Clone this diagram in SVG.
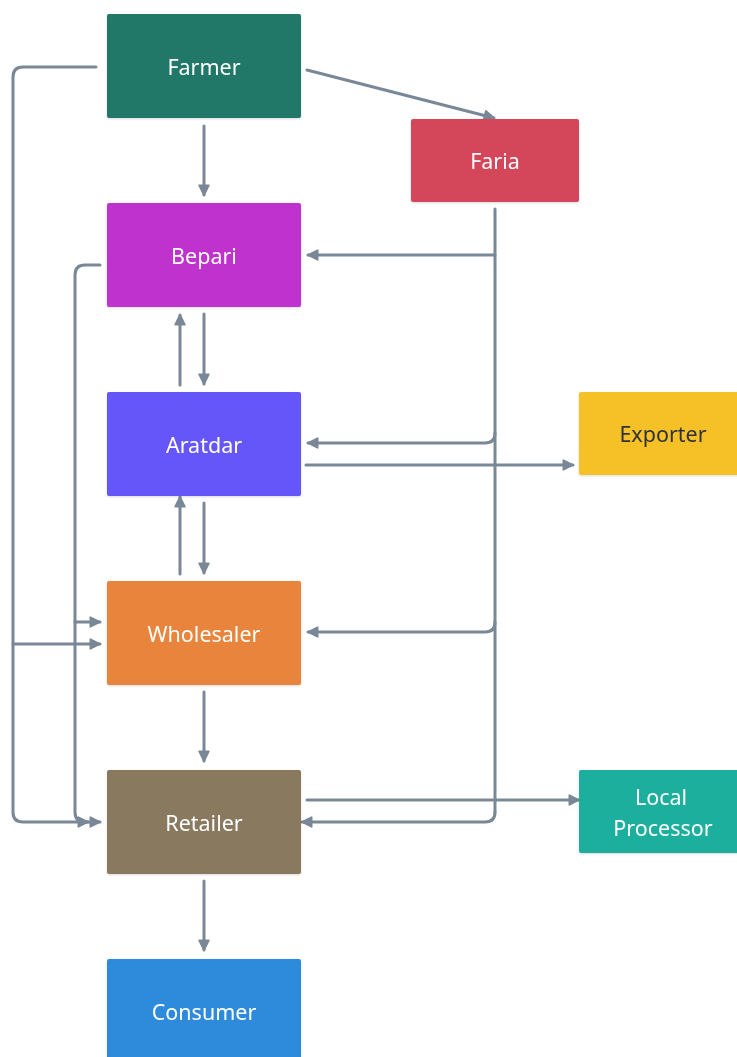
<svg xmlns="http://www.w3.org/2000/svg" width="737" height="1057" viewBox="0 0 737 1057">
  <style>
    .box { stroke: none; }
    .lbl { font-family: "Noto Sans", "DejaVu Sans", sans-serif; font-size: 21.5px; fill: #ffffff; text-anchor: middle; dominant-baseline: central; }
    .dark { fill: #2f3337; }
    .wire { fill: none; stroke: #7a8797; stroke-width: 3; stroke-linecap: round; stroke-linejoin: round; }
  </style>
  <defs>
    <marker id="arrow" viewBox="0 0 10 10" refX="9" refY="5" markerWidth="4" markerHeight="4" markerUnits="strokeWidth" orient="auto">
      <path d="M1,1 L9,5 L1,9 Z" fill="#7a8797" stroke="#7a8797" stroke-width="1.5" stroke-linejoin="round"/>
    </marker>
    <filter id="shadow" x="-10%" y="-10%" width="120%" height="130%">
      <feDropShadow dx="0" dy="1" stdDeviation="1" flood-color="#000" flood-opacity="0.15"/>
    </filter>
  </defs>
  <rect width="737" height="1057" fill="#ffffff"/>

  <g id="connectors">
    <!-- Farmer to Bepari and Faria -->
    <path class="wire" marker-end="url(#arrow)" d="M204,126 V195"/>
    <path class="wire" marker-end="url(#arrow)" d="M307,70 L494,118"/>
    <!-- Farmer outer loop to Wholesaler and Retailer -->
    <path class="wire" marker-end="url(#arrow)" d="M96,67 H23 Q13,67 13,77 V812 Q13,822 23,822 H100"/>
    <path class="wire" marker-end="url(#arrow)" d="M13,644 H100"/>
    <!-- Bepari inner loop to Wholesaler and Retailer -->
    <path class="wire" marker-end="url(#arrow)" d="M100,265 H85 Q75,265 75,275 V812 Q75,822 85,822 H88"/>
    <path class="wire" marker-end="url(#arrow)" d="M75,622 H100"/>
    <!-- Bepari / Aratdar -->
    <path class="wire" marker-end="url(#arrow)" d="M180,385 V315"/>
    <path class="wire" marker-end="url(#arrow)" d="M204,314 V384"/>
    <!-- Aratdar / Wholesaler -->
    <path class="wire" marker-end="url(#arrow)" d="M180,574 V497"/>
    <path class="wire" marker-end="url(#arrow)" d="M204,503 V573"/>
    <!-- Wholesaler to Retailer, Retailer to Consumer -->
    <path class="wire" marker-end="url(#arrow)" d="M204,692 V761"/>
    <path class="wire" marker-end="url(#arrow)" d="M204,881 V950"/>
    <!-- Faria trunk -->
    <path class="wire" d="M495,209 V812"/>
    <path class="wire" marker-end="url(#arrow)" d="M495,255 H308"/>
    <path class="wire" marker-end="url(#arrow)" d="M495,433 Q495,443 485,443 H308"/>
    <path class="wire" marker-end="url(#arrow)" d="M495,622 Q495,632 485,632 H308"/>
    <path class="wire" marker-end="url(#arrow)" d="M495,812 Q495,822 485,822 H302"/>
    <!-- Aratdar to Exporter, Retailer to Local Processor -->
    <path class="wire" marker-end="url(#arrow)" d="M306,465 H573"/>
    <path class="wire" marker-end="url(#arrow)" d="M307,800 H579"/>
  </g>

  <g id="farmer" filter="url(#shadow)">
    <rect class="box" x="107" y="14" width="194" height="104" rx="2" fill="#217867"/>
    <text class="lbl" x="204" y="66">Farmer</text>
  </g>
  <g id="faria" filter="url(#shadow)">
    <rect class="box" x="411" y="119" width="168" height="83" rx="2" fill="#d4465a"/>
    <text class="lbl" x="495" y="160">Faria</text>
  </g>
  <g id="bepari" filter="url(#shadow)">
    <rect class="box" x="107" y="203" width="194" height="104" rx="2" fill="#bf33cd"/>
    <text class="lbl" x="204" y="255">Bepari</text>
  </g>
  <g id="aratdar" filter="url(#shadow)">
    <rect class="box" x="107" y="392" width="194" height="104" rx="2" fill="#6557f9"/>
    <text class="lbl" x="204" y="444">Aratdar</text>
  </g>
  <g id="exporter" filter="url(#shadow)">
    <rect class="box" x="579" y="392" width="170" height="83" rx="2" fill="#f5c126"/>
    <text class="lbl dark" x="663" y="433">Exporter</text>
  </g>
  <g id="wholesaler" filter="url(#shadow)">
    <rect class="box" x="107" y="581" width="194" height="104" rx="2" fill="#e8843a"/>
    <text class="lbl" x="204" y="633">Wholesaler</text>
  </g>
  <g id="retailer" filter="url(#shadow)">
    <rect class="box" x="107" y="770" width="194" height="104" rx="2" fill="#88795e"/>
    <text class="lbl" x="204" y="822">Retailer</text>
  </g>
  <g id="local-processor" filter="url(#shadow)">
    <rect class="box" x="579" y="770" width="170" height="83" rx="2" fill="#1caf9d"/>
    <text class="lbl" x="661" y="796">Local</text>
    <text class="lbl" x="663" y="827">Processor</text>
  </g>
  <g id="consumer" filter="url(#shadow)">
    <rect class="box" x="107" y="959" width="194" height="110" rx="2" fill="#2d8bdb"/>
    <text class="lbl" x="204" y="1011">Consumer</text>
  </g>
</svg>
